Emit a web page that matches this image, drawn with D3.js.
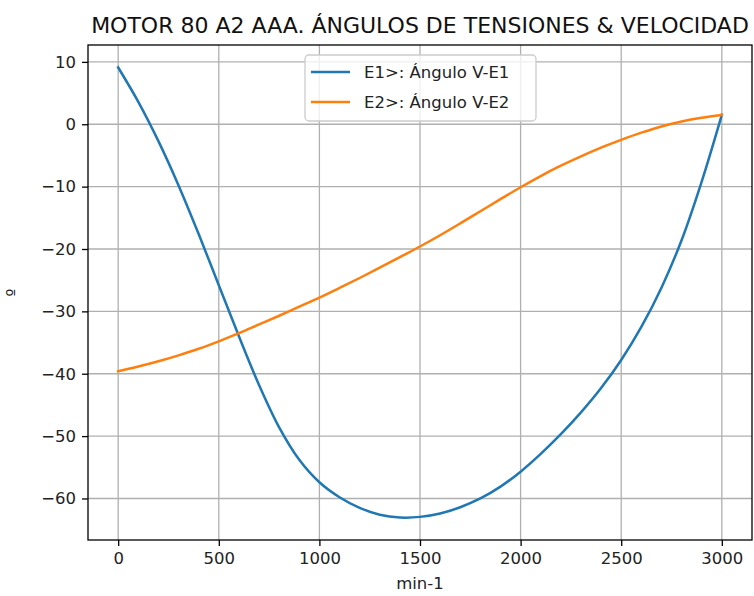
<!DOCTYPE html>
<html>
<head>
<meta charset="utf-8">
<script src="https://cdn.jsdelivr.net/npm/d3@7"></script>
<style>
  html, body { margin: 0; padding: 0; background: #fff; }
  svg { display: block; font-family: "DejaVu Sans", sans-serif; }
</style>
</head>
<body>
<svg id="chart" width="754" height="596"></svg>
<script>
// Motor speed (min-1)
const speeds = [0, 100, 200, 300, 400, 500, 600, 700, 800, 900, 1000,
  1100, 1200, 1300, 1400, 1500, 1600, 1700, 1800, 1900, 2000,
  2100, 2200, 2300, 2400, 2500, 2600, 2700, 2800, 2900, 3000];

// Angle between V and E1 (degrees)
const angleE1 = [9.1, 3.6, -2.7, -9.8, -17.6, -25.8, -34.0, -41.8, -48.6, -53.8, -57.4,
  -59.8, -61.5, -62.6, -63.05, -62.95, -62.4, -61.4, -60.0, -58.1, -55.7,
  -52.85, -49.7, -46.2, -42.3, -37.8, -32.5, -26.2, -18.6, -9.2, 1.5];

// Angle between V and E2 (degrees)
const angleE2 = [-39.6, -38.85, -38.0, -37.05, -36.0, -34.8, -33.5, -32.1, -30.7, -29.25, -27.8,
  -26.25, -24.65, -23.0, -21.3, -19.6, -17.8, -15.9, -13.95, -12.0, -10.1,
  -8.3, -6.65, -5.15, -3.75, -2.5, -1.35, -0.35, 0.45, 1.05, 1.5];

const seriesNames = ["E1>: Ángulo V-E1", "E2>: Ángulo V-E2"];
const seriesColors = ["#1f77b4", "#ff7f0e"];
const xTicks = [0, 500, 1000, 1500, 2000, 2500, 3000];
const yTicks = [10, 0, -10, -20, -30, -40, -50, -60];
const title = "MOTOR 80 A2 AAA. ÁNGULOS DE TENSIONES & VELOCIDAD";
const xLabel = "min-1";
const yLabel = "º";

const series = [angleE1, angleE2].map((vals, i) => ({
  name: seriesNames[i],
  color: seriesColors[i],
  points: speeds.map((s, j) => ({ x: s, y: vals[j] }))
}));

const plot = { left: 88, right: 752, top: 45, bottom: 540 };
const svg = d3.select("#chart");

// 5% padding around the data range on both axes
const xExt = d3.extent(speeds);
const xPad = (xExt[1] - xExt[0]) * 0.05;
const allY = angleE1.concat(angleE2);
const yExt = d3.extent(allY);
const yPad = (yExt[1] - yExt[0]) * 0.05;

const x = d3.scaleLinear().domain([xExt[0] - xPad, xExt[1] + xPad]).range([plot.left, plot.right]);
const y = d3.scaleLinear().domain([yExt[0] - yPad, yExt[1] + yPad]).range([plot.bottom, plot.top]);

const fontSize = 16.5;

// Grid
const grid = svg.append("g").attr("stroke", "#b0b0b0").attr("stroke-width", 1.3);
grid.selectAll("line.vx").data(xTicks).join("line")
  .attr("x1", d => x(d)).attr("x2", d => x(d))
  .attr("y1", plot.top).attr("y2", plot.bottom);
grid.selectAll("line.hy").data(yTicks).join("line")
  .attr("x1", plot.left).attr("x2", plot.right)
  .attr("y1", d => y(d)).attr("y2", d => y(d));

// Lines
const line = d3.line().x(d => x(d.x)).y(d => y(d.y)).curve(d3.curveCatmullRom.alpha(0.5));
svg.append("g").selectAll("path").data(series).join("path")
  .attr("fill", "none")
  .attr("stroke", d => d.color)
  .attr("stroke-width", 2.5)
  .attr("stroke-linecap", "square")
  .attr("d", d => line(d.points));

// Axes
const xAxis = d3.axisBottom(x).tickValues(xTicks).tickSize(6).tickPadding(6).tickFormat(d3.format("d"));
const yAxis = d3.axisLeft(y).tickValues(yTicks).tickSize(6).tickPadding(6)
  .tickFormat(d => d < 0 ? "\u2212" + Math.abs(d) : String(d));

const gx = svg.append("g").attr("transform", `translate(0,${plot.bottom})`).call(xAxis);
const gy = svg.append("g").attr("transform", `translate(${plot.left},0)`).call(yAxis);
[gx, gy].forEach(g => {
  g.select(".domain").remove();
  g.selectAll(".tick line").attr("stroke", "#000").attr("stroke-width", 1.3);
  g.selectAll(".tick text").attr("fill", "#222")
    .style("font-family", "DejaVu Sans, sans-serif").style("font-size", fontSize + "px");
});

// Frame
svg.append("rect")
  .attr("x", plot.left).attr("y", plot.top)
  .attr("width", plot.right - plot.left).attr("height", plot.bottom - plot.top)
  .attr("fill", "none").attr("stroke", "#000").attr("stroke-width", 1.3);

// Title and axis labels
svg.append("text").attr("x", (plot.left + plot.right) / 2).attr("y", 33)
  .attr("text-anchor", "middle").attr("fill", "#111")
  .style("font-size", "22px").text(title);
svg.append("text").attr("x", (plot.left + plot.right) / 2).attr("y", 589)
  .attr("text-anchor", "middle").attr("fill", "#222")
  .style("font-size", fontSize + "px").text(xLabel);
svg.append("text").attr("transform", `translate(19,${(plot.top + plot.bottom) / 2}) rotate(-90)`)
  .attr("text-anchor", "middle").attr("fill", "#222")
  .style("font-size", fontSize + "px").text(yLabel);

// Legend
const legend = svg.append("g").attr("transform", "translate(305,55)");
legend.append("rect").attr("width", 231).attr("height", 66).attr("rx", 4)
  .attr("fill", "#fff").attr("fill-opacity", 0.8)
  .attr("stroke", "#cccccc").attr("stroke-width", 1.3);
const items = legend.selectAll("g.item").data(series).join("g")
  .attr("transform", (d, i) => `translate(0,${17 + i * 30})`);
items.append("line").attr("x1", 6).attr("x2", 45)
  .attr("stroke", d => d.color).attr("stroke-width", 2.5);
items.append("text").attr("x", 59).attr("dy", "0.35em").attr("fill", "#222")
  .style("font-size", fontSize + "px").text(d => d.name);
</script>
</body>
</html>
